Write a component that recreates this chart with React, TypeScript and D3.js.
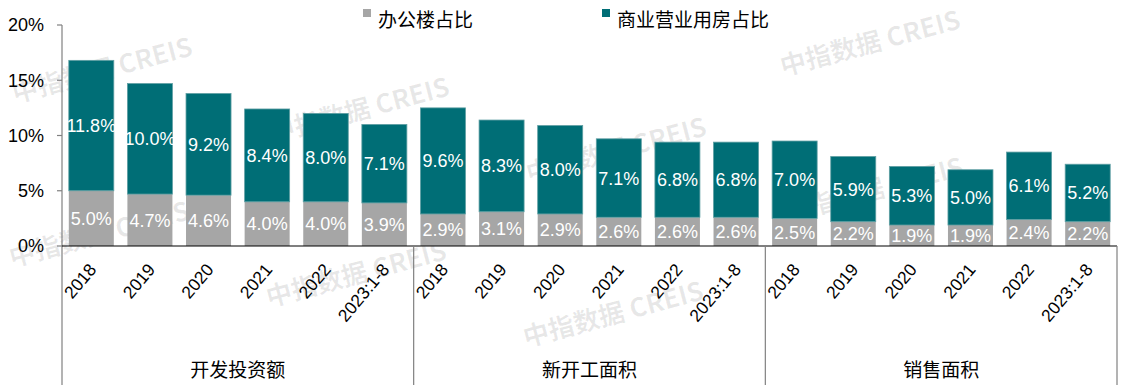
import React from "react";
import * as d3 from "d3";

const groups = ["开发投资额", "新开工面积", "销售面积"];
const years = ["2018", "2019", "2020", "2021", "2022", "2023:1-8"];
const officeShare = [
  [5.0, 4.7, 4.6, 4.0, 4.0, 3.9],
  [2.9, 3.1, 2.9, 2.6, 2.6, 2.6],
  [2.5, 2.2, 1.9, 1.9, 2.4, 2.2],
];
const commercialShare = [
  [11.8, 10.0, 9.2, 8.4, 8.0, 7.1],
  [9.6, 8.3, 8.0, 7.1, 6.8, 6.8],
  [7.0, 5.9, 5.3, 5.0, 6.1, 5.2],
];
const yTicks = [0, 5, 10, 15, 20];
const seriesNames = ["办公楼占比", "商业营业用房占比"];

const W = 1127;
const H = 390;
const TEAL = "#006E76";
const GRAY = "#A6A6A6";
const LATIN = "'Liberation Sans', Arial, sans-serif";
const CJK = "'Noto Sans CJK SC', 'Liberation Sans', sans-serif";

export default function App() {
  const left = 62;
  const right = 1117;
  const y0 = 246;
  const yTop = 25;
  const bottom = 385;

  const rows = groups.flatMap((g, gi) =>
    years.map((yr, yi) => ({
      key: `${gi}-${yi}`,
      group: g,
      gi,
      year: yr,
      office: officeShare[gi][yi],
      commercial: commercialShare[gi][yi],
    }))
  );

  const x = d3
    .scaleBand<string>()
    .domain(rows.map((r) => r.key))
    .range([left, right])
    .paddingInner(0.232)
    .paddingOuter(0.116);
  const y = d3.scaleLinear().domain([0, 20]).range([y0, yTop]);
  const step = x.step();
  const bw = x.bandwidth();

  // watermark lattice (decorative), only copies fully inside the picture
  const wm: { x: number; y: number }[] = [];
  const rowStarts = [
    { x: 12, y: -44 },
    { x: 15, y: 103 },
    { x: 12, y: 267 },
  ];
  rowStarts.forEach((s) => {
    for (let k = 0; k < 5; k++) {
      const px = s.x + k * 257;
      const py = s.y + k * 40;
      if (py - 72 > 0 && py + 4 < H && px + 200 < W) wm.push({ x: px, y: py });
    }
  });

  const groupBounds = groups.map((g, gi) => {
    const a = left + gi * 6 * step;
    const b = left + (gi + 1) * 6 * step;
    return { g, a, b };
  });

  return (
    <svg width={W} height={H} style={{ display: "block", position: "absolute", left: 0, top: 0, background: "#fff" }}>
      <rect x={0} y={0} width={W} height={H} fill="#fff" />
      {/* watermarks */}
      <g fill="#000" fillOpacity={0.09} fontFamily={CJK} fontWeight={700} fontSize={26}>
        {wm.map((p, i) => (
          <text key={i} transform={`translate(${p.x},${p.y}) rotate(-15)`}>
            中指数据 CREIS
          </text>
        ))}
      </g>

      {/* legend */}
      <rect x={363} y={9} width={8} height={8} fill={GRAY} />
      <text x={378} y={27} fontFamily={CJK} fontSize={19} fill="#000">
        {seriesNames[0]}
      </text>
      <rect x={602} y={9} width={8} height={8} fill={TEAL} />
      <text x={617} y={27} fontFamily={CJK} fontSize={19} fill="#000">
        {seriesNames[1]}
      </text>

      {/* bars */}
      {rows.map((r) => {
        const bx = x(r.key)!;
        const yo = y(r.office);
        const yc = y(r.office + r.commercial);
        return (
          <g key={r.key}>
            <rect x={bx} y={yo} width={bw} height={y0 - yo} fill={GRAY} />
            <rect x={bx} y={yc} width={bw} height={yo - yc} fill={TEAL} stroke="#5f9fa3" strokeWidth={0.8} />
            <text
              x={bx + bw / 2}
              y={(yo + y0) / 2}
              dy="0.36em"
              textAnchor="middle"
              fontFamily={LATIN}
              fontSize={18}
              fill="#fff"
            >
              {r.office.toFixed(1)}%
            </text>
            <text
              x={bx + bw / 2}
              y={(yc + yo) / 2}
              dy="0.36em"
              textAnchor="middle"
              fontFamily={LATIN}
              fontSize={18}
              fill="#fff"
            >
              {r.commercial.toFixed(1)}%
            </text>
          </g>
        );
      })}

      {/* y axis */}
      <line x1={left} x2={left} y1={yTop} y2={bottom} stroke="#808080" strokeWidth={1.2} />
      {yTicks.map((t) => (
        <g key={t}>
          <line x1={left - 5} x2={left} y1={y(t)} y2={y(t)} stroke="#808080" strokeWidth={1.2} />
          <text x={44} y={y(t)} dy="0.36em" textAnchor="end" fontFamily={LATIN} fontSize={18} fill="#000">
            {t}%
          </text>
        </g>
      ))}

      {/* x axis */}
      <line x1={left} x2={right} y1={y0} y2={y0} stroke="#000" strokeWidth={1.2} />
      {groupBounds.map((gb, i) => (
        <line key={i} x1={gb.b} x2={gb.b} y1={y0} y2={bottom} stroke="#808080" strokeWidth={1.2} />
      ))}
      {rows.map((r) => {
        const cx = x(r.key)! + bw / 2;
        return (
          <text
            key={r.key}
            transform={`translate(${cx + 6},${270}) rotate(-50)`}
            textAnchor="end"
            fontFamily={LATIN}
            fontSize={17.5}
            fill="#000"
          >
            {r.year}
          </text>
        );
      })}
      {groupBounds.map((gb) => (
        <text key={gb.g} x={(gb.a + gb.b) / 2} y={377} textAnchor="middle" fontFamily={CJK} fontSize={19} fill="#000">
          {gb.g}
        </text>
      ))}
    </svg>
  );
}
